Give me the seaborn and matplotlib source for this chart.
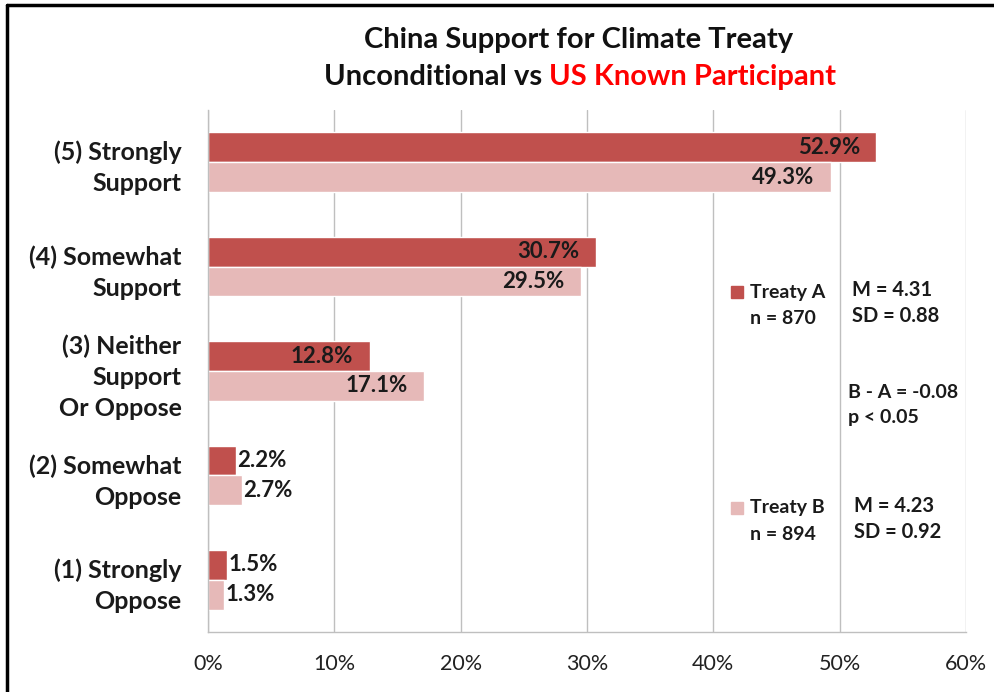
import matplotlib
matplotlib.use("Agg")
import matplotlib.pyplot as plt
from matplotlib.lines import Line2D
from matplotlib.ticker import FuncFormatter
import seaborn as sns
import pandas as pd

categories = ["(5) Strongly\nSupport", "(4) Somewhat\nSupport",
              "(3) Neither\nSupport\nOr Oppose", "(2) Somewhat\nOppose",
              "(1) Strongly\nOppose"]
treaty_a = [52.9, 30.7, 12.8, 2.2, 1.5]
treaty_b = [49.3, 29.5, 17.1, 2.7, 1.3]
series = ["Treaty A", "Treaty B"]
x_ticks = [0, 10, 20, 30, 40, 50, 60]

df = pd.DataFrame({
    "category": categories * 2,
    "value": treaty_a + treaty_b,
    "series": [series[0]] * len(categories) + [series[1]] * len(categories),
})

sns.set_theme(style="white")
FONT = ["Lato", "DejaVu Sans"]
plt.rcParams["font.family"] = FONT
plt.rcParams["font.weight"] = "bold"

dark = "#C0504D"
light = "#E6B9B8"

fig = plt.figure(figsize=(9.95, 6.92), dpi=100)
ax = fig.add_axes([208 / 995, 1 - 632 / 692, (966 - 208) / 995, (632 - 110) / 692])

sns.barplot(data=df, x="value", y="category", hue="series", orient="h",
            palette=[dark, light], width=0.57, saturation=1, ax=ax,
            legend=False, order=categories, hue_order=series)

ax.set_xlim(0, 60)
ax.set_ylim(4.5, -0.5)
ax.set_xticks(x_ticks)
ax.xaxis.set_major_formatter(FuncFormatter(lambda v, p: f"{v:.0f}%"))
ax.set_xlabel("")
ax.set_ylabel("")
ax.grid(axis="x", color="#BFBFBF", linewidth=1)
ax.set_axisbelow(True)
for s in ["top", "right"]:
    ax.spines[s].set_visible(False)
for s in ["left", "bottom"]:
    ax.spines[s].set_color("#BFBFBF")
    ax.spines[s].set_linewidth(1)
ax.tick_params(axis="x", length=0, pad=16, labelsize=15.5)
ax.tick_params(axis="y", length=0, pad=19, labelsize=18)
for lbl in ax.get_xticklabels():
    lbl.set_fontweight("normal")
    lbl.set_color("#222222")
for lbl in ax.get_yticklabels():
    lbl.set_fontweight("bold")
    lbl.set_linespacing(1.42)
    lbl.set_color("#1a1a1a")

# value labels
for cont in ax.containers:
    for bar in cont:
        w = bar.get_width()
        yc = bar.get_y() + bar.get_height() / 2
        txt = f"{w:.1f}%"
        if w > 8:
            ax.text(w - 1.3, yc, txt, ha="right", va="center", fontsize=16,
                    fontweight="bold", color="#1a1a1a")
        else:
            ax.text(w + 0.1, yc, txt, ha="left", va="center", fontsize=16,
                    fontweight="bold", color="#1a1a1a")

# title
fig.text(579 / 995, 1 - 40 / 692, "China Support for Climate Treaty", ha="center",
         va="center", fontsize=21, fontweight="bold", color="#111111")
t1 = fig.text(324 / 995, 1 - 77 / 692, "Unconditional vs ", ha="left",
              va="center", fontsize=21, fontweight="bold", color="#111111")
t2 = fig.text(0, 1 - 77 / 692, "US Known Participant",
              ha="left", va="center", fontsize=21, fontweight="bold", color="#FF0000")
fig.canvas.draw()
w1 = t1.get_window_extent().width
w2 = t2.get_window_extent().width
x0 = 580 - (w1 + w2) / 2
t1.set_x(x0 / 995)
t2.set_x((x0 + w1) / 995)

# legend-like annotations
def ft(x, y, s, size=14):
    fig.text(x / 995, 1 - y / 692, s, ha="left", va="center", fontsize=size,
             fontweight="bold", color="#1a1a1a")

fig.patches.append(plt.Rectangle((731 / 995, 1 - 298 / 692), 12 / 995, 12 / 692,
                                 transform=fig.transFigure, color=dark))
ft(750, 292, "Treaty A")
ft(750, 318, "n = 870")
ft(852, 290, "M = 4.31", 14.5)
ft(852, 316, "SD = 0.88", 14.5)
ft(848, 392, "B - A = -0.08")
ft(848, 418, "p < 0.05")
fig.patches.append(plt.Rectangle((731 / 995, 1 - 514 / 692), 12 / 995, 12 / 692,
                                 transform=fig.transFigure, color=light))
ft(750, 508, "Treaty B")
ft(750, 534, "n = 894")
ft(854, 506, "M = 4.23", 14.5)
ft(854, 532, "SD = 0.92", 14.5)

# outer frame (left and top)
fig.add_artist(Line2D([7 / 995, 7 / 995], [0, 1 - 5 / 692], color="black",
                      linewidth=2.5, transform=fig.transFigure))
fig.add_artist(Line2D([7 / 995, 1], [1 - 5 / 692, 1 - 5 / 692], color="black",
                      linewidth=2.5, transform=fig.transFigure))

fig.savefig("out.png", dpi=100)
